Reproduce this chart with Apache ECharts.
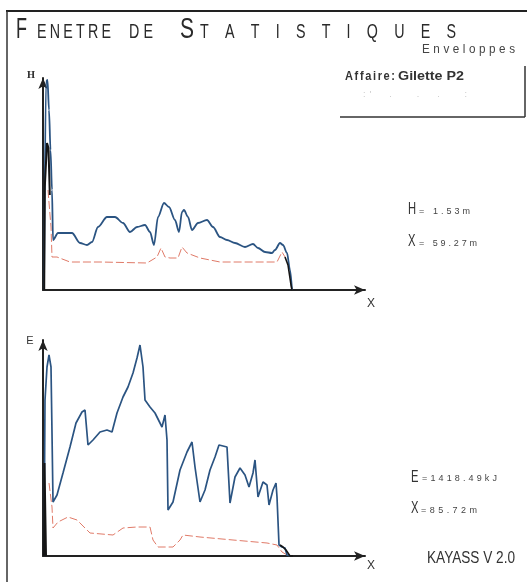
<!DOCTYPE html>
<html><head><meta charset="utf-8">
<script src="https://cdn.jsdelivr.net/npm/echarts@6.0.0/dist/echarts.min.js"></script>
<style>html,body{margin:0;padding:0;background:#fff}#c{width:527px;height:582px}</style>
</head><body><div id="c"></div>
<script>
// ---- data (x in m along the profile) ----
const xMax = 161;
const topYMax = 2.12;     // H (m)
const botYMax = 2160;     // E (kJ)

const topBlue = [[0.5,0],[1.5,2.08],[2.25,2.10],[3,1.80],[3.75,1.40],[4.5,1.00],[5,0.50],[7.5,0.57],[10,0.57],[14.5,0.57],[18.5,0.47],[22,0.45],[24.5,0.48],[27.5,0.63],[32,0.73],[36,0.73],[40,0.67],[43.5,0.58],[47,0.63],[51,0.65],[53.5,0.58],[55.5,0.45],[57.5,0.73],[60.5,0.87],[63,0.83],[66,0.70],[68,0.58],[69.5,0.78],[70.5,0.80],[72.5,0.73],[74.5,0.60],[77.5,0.67],[82,0.70],[85,0.63],[88.5,0.53],[92,0.50],[96,0.47],[101,0.43],[105,0.46],[107.5,0.42],[111,0.38],[114.5,0.37],[116,0.40],[118.5,0.47],[120,0.45],[122,0.37],[123.5,0.20],[124.5,0]];
const topRed = [[2.5,1.00],[4,0.63],[4.5,0.33],[7,0.33],[13.5,0.28],[28.5,0.28],[52,0.27],[57,0.33],[59,0.42],[61,0.33],[63.5,0.32],[67.5,0.32],[69.5,0.43],[72,0.37],[78.5,0.32],[88.5,0.28],[117,0.28],[119.5,0.38],[121,0.33]];
const topBlackStart = [[0.6,0],[0.9,1.03],[2,1.47],[2.75,1.42],[3.4,0.95]];
const topBlackEnd = [[121,0.33],[122.5,0.25],[124,0.05],[124.5,0]];

const botBlue = [[0.5,0],[1,1560],[2,1890],[3,2010],[4,1890],[4.5,1230],[5,540],[7,610],[10,830],[13.5,1090],[16.5,1330],[19.5,1440],[21,1460],[22.5,1110],[25,1160],[28.5,1240],[32,1260],[34.5,1240],[37,1430],[40,1590],[42.5,1690],[45,1830],[47,1980],[48.5,2110],[50,1890],[51,1560],[53.5,1490],[56,1430],[58.5,1330],[59.5,1290],[61,1410],[62,1160],[62.5,460],[65,540],[68.5,860],[72,1040],[74.5,1140],[76,890],[78.5,540],[81,660],[83.5,860],[86,990],[88,1110],[92,1090],[93.5,530],[96,790],[98.5,880],[101,810],[103,690],[105,830],[106,960],[107.5,590],[110,740],[112,710],[113,510],[115,660],[116.5,730],[117,590],[118,110],[119.5,90],[121,80],[122,10],[123.5,0]];
const botRed = [[3,730],[4.5,490],[5,280],[7.5,340],[12.5,390],[17,360],[23.5,230],[35,210],[40,280],[47,290],[53.5,290],[55,160],[57.5,90],[65,90],[68.5,160],[70,210],[78.5,190],[95,160],[112,130],[117,110],[119.5,40],[122,10]];
const botBlackStart = [[0.5,0],[0.75,930],[1.25,930],[1.5,0]];
const botBlackEnd = [[118.5,110],[120,90],[121.5,60],[123.5,0],[125,0]];

// ---- texts ----
const titleWords = ['F','ENETRE','DE','S','TATISTIQUES'];
const subTitle = 'Enveloppes';
const affaire = ['Affaire:','Gilette P2'];
const hValue = '= 1.53m', xTopValue = '= 59.27m';
const eValue = '=1418.49kJ', xBotValue = '=85.72m';
const version = 'KAYASS V 2.0';

const cv = document.createElement('canvas').getContext('2d');
function mw(t, font){ cv.font = font; return cv.measureText(t).width; }
function spread(tokens, x0, x1, yBase, o){
  o = o || {};
  const fam = o.family || "'Liberation Sans', sans-serif", sx = o.scaleX || 1, wt = o.weight || 'normal';
  const items = [];
  tokens.forEach(tk => [...tk[0]].forEach(ch => items.push({ch, size: tk[1]})));
  const widths = items.map(it => it.ch === ' ' ? it.size * (o.space || 0.3) : mw(it.ch, wt+' '+it.size+'px '+fam) * sx);
  const total = widths.reduce((a,b)=>a+b, 0);
  const g = items.length > 1 ? (x1 - x0 - total) / (items.length - 1) : 0;
  let x = x0; const out = [];
  items.forEach((it,i) => {
    if (it.ch !== ' ') out.push({type:'text', x:x, y:yBase - 0.31*it.size, scaleX:sx, silent:true,
      style:{text:it.ch, font:wt+' '+it.size+'px '+fam, fill:o.color||'#333', textAlign:'left', textVerticalAlign:'middle'}});
    x += widths[i] + g;
  });
  return out;
}
function fitText(t, x0, x1, yBase, size, o){
  o = o || {};
  const fam = o.family || "'Liberation Sans', sans-serif", wt = o.weight || 'normal';
  const font = wt+' '+size+'px '+fam;
  const sx = (x1 - x0) / mw(t, font);
  return {type:'text', x:x0, y:yBase - 0.31*size, scaleX:sx, silent:true,
    style:{text:t, font:font, fill:o.color||'#333', textAlign:'left', textVerticalAlign:'middle'}};
}
function line(x1,y1,x2,y2,w,c){ return {type:'line', silent:true, shape:{x1,y1,x2,y2}, style:{stroke:c||'#222', lineWidth:w||1.5}}; }

let graphics = [];
graphics.push(line(6,11,527,11,2,'#222'));
graphics.push(line(7,11,7,582,1.5,'#333'));
graphics.push(line(340,117,525,117,1.5,'#333'));
graphics.push(line(525,66,525,117,1.5,'#333'));
const tc = {color:'#2a2a2a'};
graphics.push(fitText(titleWords[0], 16, 27, 39, 29, tc));
graphics = graphics.concat(spread([[titleWords[1],21]], 37, 111, 39, {scaleX:0.68, color:'#2a2a2a'}));
graphics = graphics.concat(spread([[titleWords[2],21]], 129, 153, 39, {scaleX:0.68, color:'#2a2a2a'}));
graphics.push(fitText(titleWords[3], 180, 194, 39, 29, tc));
graphics = graphics.concat(spread([[titleWords[4],21]], 200, 456, 39, {scaleX:0.68, color:'#2a2a2a'}));
graphics = graphics.concat(spread([[subTitle,13]], 422, 515, 53, {color:'#444', scaleX:0.9}));
graphics = graphics.concat(spread([[affaire[0],13]], 345, 395, 80, {weight:'bold', color:'#333', scaleX:0.85}));
graphics.push(fitText(affaire[1], 398, 464, 80, 13, {weight:'bold', color:'#333'}));
graphics = graphics.concat(spread([[":'  .   .  .   :",9]], 363, 467, 97, {color:'#c8c8c8'}));
graphics.push({type:'text', x:31, y:76, silent:true, style:{text:'H', font:"bold 9px 'DejaVu Serif', serif", fill:'#333', textAlign:'center', textVerticalAlign:'middle'}});
graphics.push({type:'text', x:30, y:341, silent:true, style:{text:'E', font:"11px 'Liberation Sans', sans-serif", fill:'#333', textAlign:'center', textVerticalAlign:'middle'}});
graphics.push({type:'text', x:371, y:304, silent:true, style:{text:'X', font:"12px 'Liberation Sans', sans-serif", fill:'#333', textAlign:'center', textVerticalAlign:'middle'}});
graphics.push({type:'text', x:371, y:566, silent:true, style:{text:'X', font:"12px 'Liberation Sans', sans-serif", fill:'#333', textAlign:'center', textVerticalAlign:'middle'}});
graphics = graphics.concat(spread([['H',16]], 408, 416, 215, {scaleX:0.7}));
graphics = graphics.concat(spread([[hValue,9]], 419, 470, 214, {color:'#444'}));
graphics = graphics.concat(spread([['X',16]], 408, 416, 247, {scaleX:0.7}));
graphics = graphics.concat(spread([[xTopValue,9]], 419, 477, 246, {color:'#444'}));
graphics = graphics.concat(spread([['E',16]], 411, 418, 483, {scaleX:0.7}));
graphics = graphics.concat(spread([[eValue,9]], 422, 497, 481, {color:'#444'}));
graphics = graphics.concat(spread([['X',16]], 411, 418, 514, {scaleX:0.7}));
graphics = graphics.concat(spread([[xBotValue,9]], 421, 477, 513, {color:'#444'}));
graphics.push(fitText(version, 427, 515, 564, 16, {color:'#333'}));

function axisCommon(max){
  return {type:'value', min:0, max:max,
    axisLine:{show:true, onZero:false, lineStyle:{color:'#222', width:2}, symbol:['none','arrow'], symbolSize:[7,11]},
    axisTick:{show:false}, axisLabel:{show:false}, splitLine:{show:false}};
}
function lineSeries(data, xi, color, width, type, z, smooth){
  return {type:'line', xAxisIndex:xi, yAxisIndex:xi, data:data, showSymbol:false, symbol:'none', silent:true,
    smooth: smooth || false, smoothMonotone: smooth ? 'x' : undefined,
    lineStyle:{color:color, width:width, type:type||'solid'}, z:z||2, animation:false};
}

const chart = echarts.init(document.getElementById('c'), null, {renderer:'canvas'});
chart.setOption({
  animation:false,
  backgroundColor:'#fff',
  grid:[{left:43, top:78, width:322, height:212}, {left:43, top:340, width:322, height:216}],
  xAxis:[Object.assign(axisCommon(xMax),{gridIndex:0}), Object.assign(axisCommon(xMax),{gridIndex:1})],
  yAxis:[Object.assign(axisCommon(topYMax),{gridIndex:0}), Object.assign(axisCommon(botYMax),{gridIndex:1})],
  series:[
    lineSeries(topRed,0,'#e07a68',1,[8,3],2),
    lineSeries(topBlue,0,'#2b5482',1.8,'solid',3,0.3),
    lineSeries(topBlackStart,0,'#151515',2,'solid',4),
    lineSeries(topBlackEnd,0,'#151515',1.6,'solid',4),
    lineSeries(botRed,1,'#e07a68',1,[8,3],2),
    lineSeries(botBlue,1,'#2b5482',1.7,'solid',3),
    lineSeries(botBlackStart,1,'#151515',2,'solid',4),
    lineSeries(botBlackEnd,1,'#151515',1.6,'solid',4)
  ],
  graphic:{elements:graphics}
});
</script></body></html>
